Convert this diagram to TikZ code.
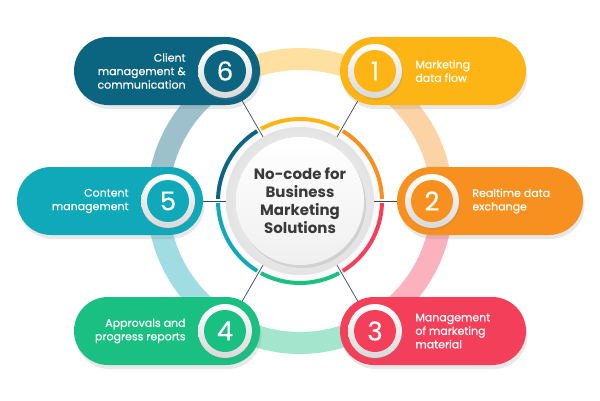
\documentclass[tikz,border=0pt]{standalone}
\usepackage{fontspec}
\setmainfont{Poppins}
\newfontfamily\popmed[FakeBold=0.4]{Poppins}
\usetikzlibrary{positioning,shadows,calc}
\definecolor{txt}{HTML}{3A3A3A}
\definecolor{wire}{HTML}{33495A}
\definecolor{yel}{HTML}{FDB515}
\definecolor{ora}{HTML}{F7901E}
\definecolor{rose}{HTML}{F43F5B}
\definecolor{grn}{HTML}{1ABF82}
\definecolor{aqua}{HTML}{10A9B9}
\definecolor{navy}{HTML}{0B6480}

\begin{document}
\begin{tikzpicture}[
  x=1pt, y=1pt,
  pill/.style={rounded corners=34pt, minimum width=186pt, minimum height=68pt, inner sep=0pt, fill=#1,
    drop shadow={shadow xshift=1.5pt, shadow yshift=-4pt, opacity=0.18}},
  ring/.style={circle, minimum size=54pt, inner sep=0pt, top color=white, bottom color=gray!30,
    drop shadow={shadow xshift=1pt, shadow yshift=-2pt, opacity=0.2}},
  num/.style={circle, minimum size=42pt, inner sep=0pt, fill=#1, text=white, font=\popmed\fontsize{26}{26}\selectfont},
  lbl/.style={text=white, inner sep=0pt, font=\popmed\fontsize{11}{13.5}\selectfont},
  link/.style={draw=wire, line width=0.7pt},
]
\useasboundingbox (0,0) rectangle (600,400);

\coordinate (o) at (300,199);
\coordinate (p1) at (375,329);
\coordinate (p2) at (432,199);
\coordinate (p3) at (375,69);
\coordinate (p4) at (225,69);
\coordinate (p5) at (168,199);
\coordinate (p6) at (225,329);

\foreach \a/\c in {60/yel,0/ora,-60/rose,-120/grn,180/aqua,120/navy}
  \draw[\c!40, line width=22pt] ([shift={(\a:142pt)}]o) arc[start angle=\a, end angle=\a+60, radius=142pt];

\node[circle, minimum size=162pt, fill=gray!4, drop shadow={shadow xshift=0pt, shadow yshift=-3pt, opacity=0.15}] (hub) at (o) {};
\foreach \a/\c in {60/yel,0/ora,-60/rose,-120/grn,180/aqua,120/navy}
  \draw[\c, line width=4pt] ([shift={(\a+1.5:82pt)}]o) arc[start angle=\a+1.5, end angle=\a+58.5, radius=82pt];

\foreach \p in {p1,p2,p3,p4,p5,p6}
  \draw[link] (o) -- (\p);

\node[circle, minimum size=148pt, inner color=white, outer color=gray!22] (rim) at (o) {};
\node[circle, minimum size=128pt, top color=white, bottom color=gray!12, text=txt, align=center,
  drop shadow={shadow xshift=2pt, shadow yshift=-3pt, opacity=0.2},
  font=\bfseries\fontsize{15}{18}\selectfont] (core) at (o) {No-code for\\Business\\Marketing\\Solutions};

\node[pill=navy] (pill6) at (167,329) {};
\node[pill=yel] (pill1) at (433,329) {};
\node[pill=aqua] (pill5) at (110,199) {};
\node[pill=ora] (pill2) at (490,199) {};
\node[pill=grn] (pill4) at (167,69) {};
\node[pill=rose] (pill3) at (433,69) {};

\node[ring] (r1) at (p1) {};
\node[num=yel] (b1) at (p1) {1};
\node[ring] (r2) at (p2) {};
\node[num=ora] (b2) at (p2) {2};
\node[ring] (r3) at (p3) {};
\node[num=rose] (b3) at (p3) {3};
\node[ring] (r4) at (p4) {};
\node[num=grn] (b4) at (p4) {4};
\node[ring] (r5) at (p5) {};
\node[num=aqua] (b5) at (p5) {5};
\node[ring] (r6) at (p6) {};
\node[num=navy] (b6) at (p6) {6};

\node[lbl, align=left, right=13pt of r1] (t1) {Marketing\\data flow};
\node[lbl, align=left, right=13pt of r2] (t2) {Realtime data\\exchange};
\node[lbl, align=left, right=13pt of r3] (t3) {Management\\of marketing\\material};
\node[lbl, align=right, left=12pt of r4] (t4) {Approvals and\\progress reports};
\node[lbl, align=right, left=12pt of r5] (t5) {Content\\management};
\node[lbl, align=right, left=12pt of r6] (t6) {Client\\management \&\\communication};

\end{tikzpicture}
\end{document}
